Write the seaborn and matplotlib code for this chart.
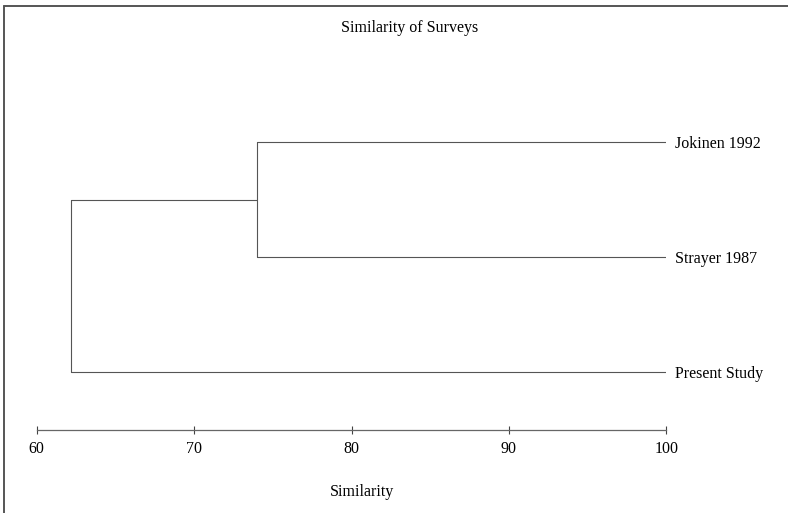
import matplotlib
matplotlib.use("Agg")
import matplotlib.pyplot as plt
from matplotlib.lines import Line2D
import pandas as pd
import seaborn as sns

# leaves from top to bottom, and the two merges (children ids, similarity level)
leaves = ["Jokinen 1992", "Strayer 1987", "Present Study"]
leaf_level = 100.0
merge_a = [0, 3]
merge_b = [1, 2]
merge_level = [74.0, 62.2]
x_ticks = [60, 70, 80, 90, 100]


def dendro_segments():
    nodes = {i: (leaf_level, float(i)) for i in range(len(leaves))}
    rows = []
    seg = 0
    for k, (a, b, h) in enumerate(zip(merge_a, merge_b, merge_level)):
        (xa, ya), (xb, yb) = nodes[a], nodes[b]
        for x0, x1, y0, y1 in [(xa, h, ya, ya), (h, h, ya, yb), (h, xb, yb, yb)]:
            rows.append({"seg": seg, "x": x0, "y": y0})
            rows.append({"seg": seg, "x": x1, "y": y1})
            seg += 1
        nodes[len(leaves) + k] = (h, (ya + yb) / 2)
    return pd.DataFrame(rows)


sns.set_style("white")
plt.rcParams["font.family"] = ["Liberation Serif", "DejaVu Serif"]
plt.rcParams["text.color"] = "black"
plt.rcParams["xtick.labelcolor"] = "black"
plt.rcParams["ytick.labelcolor"] = "black"
plt.rcParams["axes.labelcolor"] = "black"

fig = plt.figure(figsize=(7.88, 5.13), dpi=100)
ax = fig.add_axes([0.0466, 0.1618, 0.799, 0.6735])

df = dendro_segments()
sns.lineplot(data=df, x="x", y="y", units="seg", estimator=None, sort=False,
             color="#555555", linewidth=0.8, ax=ax)

ax.set_xlim(60, 100)
ax.set_ylim(2.5, -0.5)
ax.set_xticks(x_ticks)
ax.set_xticklabels([str(t) for t in x_ticks], fontsize=11.5)
ax.tick_params(axis="x", direction="inout", length=6, width=0.8,
               color="#444444", pad=5, bottom=True)

ax.yaxis.tick_right()
ax.set_yticks(range(len(leaves)))
ax.set_yticklabels(leaves, fontsize=11.5)
ax.tick_params(axis="y", length=0, pad=6)

for side in ["left", "top", "right"]:
    ax.spines[side].set_visible(False)
ax.spines["bottom"].set_color("#666666")
ax.spines["bottom"].set_linewidth(0.9)

ax.set_ylabel("")
ax.set_xlabel("Similarity", fontsize=11.5, va="center")
ax.xaxis.set_label_coords(0.517, -0.179)

fig.text(410 / 788, 1 - 28 / 513, "Similarity of Surveys", ha="center",
         va="center", fontsize=11.5)

# page frame (left and top edges)
fig.add_artist(Line2D([4 / 788, 4 / 788], [0, 1 - 6 / 513],
                      color="#555555", linewidth=1.4))
fig.add_artist(Line2D([4 / 788, 1], [1 - 6 / 513, 1 - 6 / 513],
                      color="#555555", linewidth=1.4))

fig.savefig("out.png", dpi=100)
